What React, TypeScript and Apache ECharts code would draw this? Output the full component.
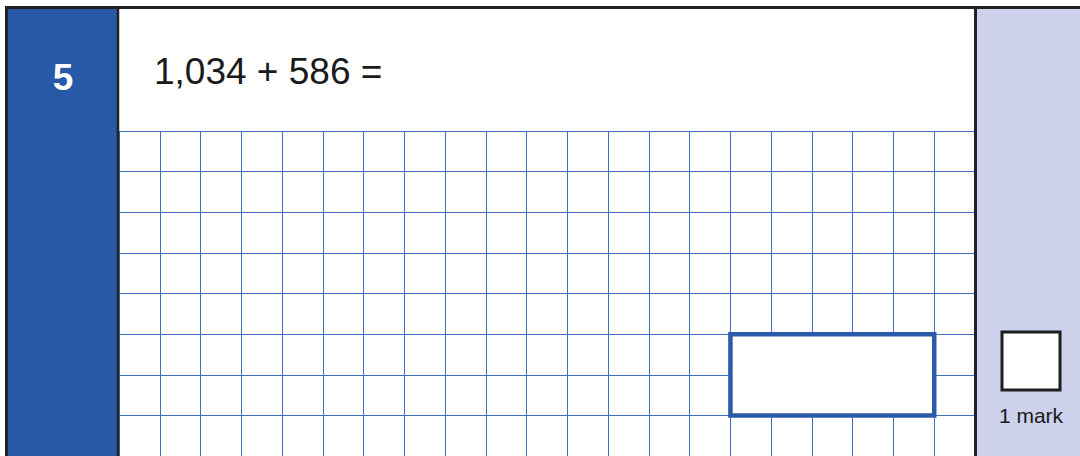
import React, { useEffect, useRef } from "react";
import * as echarts from "echarts";

// ---- content ----
const questionNumber = "5";
const questionText = "1,034 + 586 =";
const markLabel = "1 mark";

// ---- squared working grid ----
const gridColumns = 21;
const gridRows = 8;
// answer box in grid cells: [startCol, endCol], [startRow, endRow]
const answerBoxCols = [15, 20];
const answerBoxRows = [5, 7];

const FONT = "'Liberation Sans', Arial, Helvetica, sans-serif";

export default function App() {
  const ref = useRef<HTMLDivElement>(null);

  useEffect(() => {
    document.body.style.margin = "0";
    const chart = echarts.init(ref.current!, undefined, { renderer: "svg" });

    const cell = 856 / gridColumns;

    const option: any = {
      animation: false,
      backgroundColor: "#ffffff",
      grid: {
        left: 119,
        top: 131,
        width: 856,
        height: cell * gridRows,
        containLabel: false,
      },
      xAxis: {
        type: "value",
        min: 0,
        max: gridColumns,
        interval: 1,
        axisLine: { show: false },
        axisTick: { show: false },
        axisLabel: { show: false },
        splitLine: { show: true, lineStyle: { color: "#3F6EC2", width: 1 } },
      },
      yAxis: {
        type: "value",
        inverse: true,
        min: 0,
        max: gridRows,
        interval: 1,
        axisLine: { show: false },
        axisTick: { show: false },
        axisLabel: { show: false },
        splitLine: { show: true, lineStyle: { color: "#3F6EC2", width: 1 } },
      },
      series: [
        {
          type: "custom",
          data: [[answerBoxCols[0], answerBoxRows[0], answerBoxCols[1], answerBoxRows[1]]],
          renderItem: (params: any, api: any) => {
            const p0 = api.coord([api.value(0), api.value(1)]);
            const p1 = api.coord([api.value(2), api.value(3)]);
            return {
              type: "rect",
              shape: { x: p0[0], y: p0[1], width: p1[0] - p0[0], height: p1[1] - p0[1] },
              style: { fill: "#ffffff", stroke: "#2A5BA8", lineWidth: 4.5 },
            };
          },
          silent: true,
        },
      ],
      graphic: [
        // left blue number panel
        { type: "rect", z: 5, shape: { x: 7, y: 8, width: 111, height: 450 }, style: { fill: "#2759A6" } },
        // right marks panel
        { type: "rect", z: 5, shape: { x: 975, y: 8, width: 110, height: 450 }, style: { fill: "#CDD1EB" } },
        // borders
        { type: "line", z: 10, shape: { x1: 5, y1: 7.5, x2: 1080, y2: 7.5 }, style: { stroke: "#222222", lineWidth: 3 } },
        { type: "line", z: 10, shape: { x1: 6.5, y1: 6, x2: 6.5, y2: 456 }, style: { stroke: "#222222", lineWidth: 3 } },
        { type: "line", z: 10, shape: { x1: 118, y1: 7, x2: 118, y2: 456 }, style: { stroke: "#222222", lineWidth: 2.5 } },
        { type: "line", z: 10, shape: { x1: 975.5, y1: 7, x2: 975.5, y2: 456 }, style: { stroke: "#222222", lineWidth: 3 } },
        // question number
        {
          type: "text",
          z: 11,
          style: {
            x: 63,
            y: 77,
            text: questionNumber,
            fill: "#ffffff",
            font: `bold 37px ${FONT}`,
            align: "center",
            verticalAlign: "middle",
          },
        },
        // question
        {
          type: "text",
          z: 11,
          style: {
            x: 154,
            y: 71,
            text: questionText,
            fill: "#1a1a1a",
            font: `37px ${FONT}`,
            align: "left",
            verticalAlign: "middle",
          },
        },
        // mark box
        {
          type: "rect",
          z: 11,
          shape: { x: 1002, y: 332, width: 58, height: 58 },
          style: { fill: "#ffffff", stroke: "#1e1e1e", lineWidth: 3 },
        },
        {
          type: "text",
          z: 11,
          style: {
            x: 1031,
            y: 415,
            text: markLabel,
            fill: "#1a1a1a",
            font: `21px ${FONT}`,
            align: "center",
            verticalAlign: "middle",
          },
        },
      ],
    };

    chart.setOption(option);
    return () => chart.dispose();
  }, []);

  return (
    <div
      ref={ref}
      style={{ position: "absolute", left: 0, top: 0, width: 1080, height: 456 }}
    />
  );
}
